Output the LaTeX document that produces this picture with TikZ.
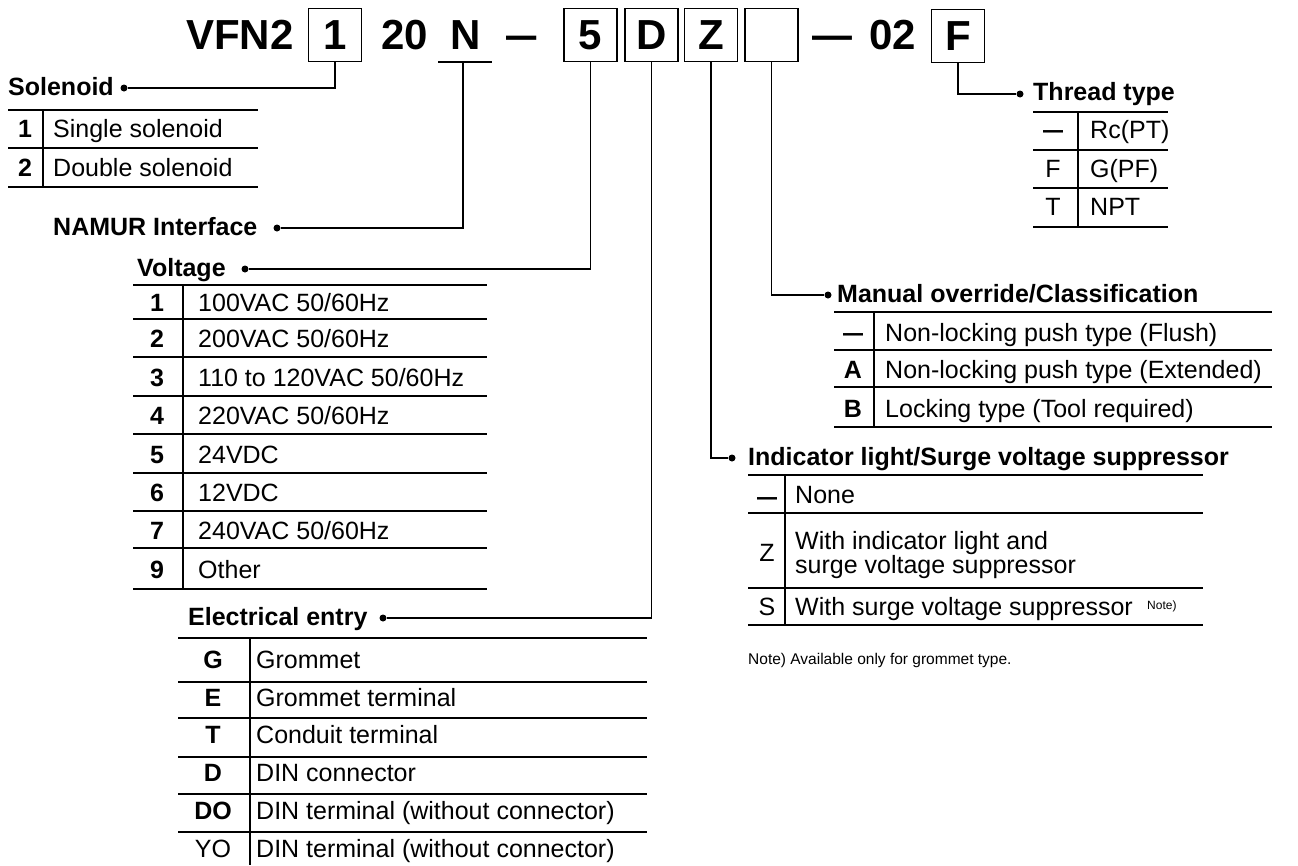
\documentclass[tikz,border=0pt]{standalone}
\usepackage{fontspec}
\setmainfont{Liberation Sans}
\newcommand\fTitle{\fontsize{42}{46}\selectfont\bfseries}
\newcommand\fHead{\fontsize{25}{28}\selectfont\bfseries}
\newcommand\fBody{\fontsize{25}{28}\selectfont}
\newcommand\fNote{\fontsize{15.5}{18}\selectfont}
\newcommand\fSup{\fontsize{12}{14}\selectfont}
\tikzset{
  conn/.style={line width=1.8pt},
  rulel/.style={line width=2.4pt},
  codebox/.style={draw, line width=1.8pt, minimum width=53pt, minimum height=53pt, inner sep=0pt, font=\fTitle},
  ttl/.style={inner sep=0pt, anchor=base west, font=\fTitle},
  dotn/.style={circle, fill, inner sep=0pt, minimum size=7pt},
  txt/.style={inner sep=0pt, anchor=base west, font=\fBody},
  hd/.style={inner sep=0pt, anchor=base west, font=\fHead},
  codeb/.style={inner sep=0pt, anchor=base, font=\fHead},
  coder/.style={inner sep=0pt, anchor=base, font=\fBody},
  notetxt/.style={inner sep=0pt, anchor=base west, font=\fNote},
  suptxt/.style={inner sep=0pt, anchor=base west, font=\fSup}
}
\begin{document}
\begin{tikzpicture}[x=1pt,y=-1pt]
\useasboundingbox (0,0) rectangle (1298,865);
% ---------- title ----------
\node[ttl] (tVFN) at (186,49) {VFN2};
\node[codebox] (b1) at (335,35) {1};
\node[ttl] (t20) at (381,49) {20};
\node[ttl] (tN) at (450,49) {N};
\coordinate (nL) at (438,62);
\coordinate (nR) at (492,62);
\coordinate (nM) at (463,62);
\draw[conn] (nL) -- (nR);
\node[ttl] (dash1) at (506,49) {\scalebox{0.72}[1]{—}};
\node[codebox] (b5) at (590.5,35) {5};
\node[codebox] (bD) at (651.5,35) {D};
\node[codebox] (bZ) at (711,35) {Z};
\node[codebox] (bM) at (771.5,35) {};
\node[ttl] (dash2) at (812,49) {\scalebox{0.95}[1]{—}};
\node[ttl] (t02) at (869,49) {02};
\node[codebox] (bF) at (958,36) {F};
% ---------- connectors ----------
\node[dotn] (dS) at (124,88) {};
\draw[conn] (b1.south) |- (dS);
\node[dotn] (dN) at (277,228) {};
\draw[conn] (nM) |- (dN);
\node[dotn] (dV) at (245,269) {};
\draw[conn] (b5.south) |- (dV);
\node[dotn] (dE) at (383,618) {};
\draw[conn] (bD.south) |- (dE);
\node[dotn] (dI) at (732,458) {};
\draw[conn] (bZ.south) |- (dI);
\node[dotn] (dM) at (828,295) {};
\draw[conn] (bM.south) |- (dM);
\node[dotn] (dT) at (1020,94) {};
\draw[conn] (bF.south) |- (dT);
% ---------- headers ----------
\node[hd] (hS) at (8,95) {Solenoid};
\node[hd] (hN) at (53,235) {NAMUR Interface};
\node[hd] (hV) at (137,276) {Voltage};
\node[hd] (hE) at (188,625) {Electrical entry};
\node[hd] (hI) at (748,465) {Indicator light/Surge voltage suppressor};
\node[hd] (hM) at (837,302) {Manual override/Classification};
\node[hd] (hT) at (1033,100) {Thread type};
% ---------- Solenoid table ----------
\foreach \yy in {110,148,187} \draw[rulel] (8,\yy) -- (258,\yy);
\draw[rulel] (43,110) -- (43,187);
\node[codeb] (s1k) at (25,137) {1};
\node[txt] (s1t) at (53,137) {Single solenoid};
\node[codeb] (s2k) at (25,176) {2};
\node[txt] (s2t) at (53,176) {Double solenoid};
% ---------- Voltage table ----------
\foreach \yy in {285,319,357,396,434,473,511,548,589} \draw[rulel] (133,\yy) -- (487,\yy);
\draw[rulel] (183,285) -- (183,589);
\foreach \k/\t/\b [count=\i] in {1/100VAC 50\slash 60Hz/311, 2/200VAC 50\slash 60Hz/347, 3/110 to 120VAC 50\slash 60Hz/386, 4/220VAC 50\slash 60Hz/424, 5/24VDC/463, 6/12VDC/501, 7/240VAC 50\slash 60Hz/539, 9/Other/578}{
  \node[codeb] (vk\i) at (157,\b) {\k};
  \node[txt] (vt\i) at (198,\b) {\t};
}
% ---------- Electrical entry table ----------
\foreach \yy in {638,682,718,757,794,832} \draw[rulel] (178,\yy) -- (647,\yy);
\draw[rulel] (250,638) -- (250,865);
\node[codeb] (ek1) at (213,668) {G};
\node[txt] (et1) at (256,668) {Grommet};
\node[codeb] (ek2) at (213,706) {E};
\node[txt] (et2) at (256,706) {Grommet terminal};
\node[codeb] (ek3) at (213,743) {T};
\node[txt] (et3) at (256,743) {Conduit terminal};
\node[codeb] (ek4) at (213,781) {D};
\node[txt] (et4) at (256,781) {DIN connector};
\node[codeb] (ek5) at (213,819) {DO};
\node[txt] (et5) at (256,819) {DIN terminal (without connector)};
\node[coder] (ek6) at (213,857) {YO};
\node[txt] (et6) at (256,857) {DIN terminal (without connector)};
% ---------- Manual override table ----------
\foreach \yy in {312,350,387,427} \draw[rulel] (834,\yy) -- (1272,\yy);
\draw[rulel] (874,312) -- (874,427);
\node[codeb] (mk1) at (853,341) {\scalebox{0.8}[1]{—}};
\node[txt] (mt1) at (885,341) {Non-locking push type (Flush)};
\node[codeb] (mk2) at (853,378) {A};
\node[txt] (mt2) at (885,378) {Non-locking push type (Extended)};
\node[codeb] (mk3) at (853,417) {B};
\node[txt] (mt3) at (885,417) {Locking type (Tool required)};
% ---------- Indicator table ----------
\foreach \yy in {475,513,588,625} \draw[rulel] (748,\yy) -- (1203,\yy);
\draw[rulel] (785,475) -- (785,625);
\node[codeb] (ik1) at (767,505) {\scalebox{0.8}[1]{—}};
\node[txt] (it1) at (795,503) {None};
\node[coder] (ik2) at (767,561) {Z};
\node[txt] (it2a) at (795,549) {With indicator light and};
\node[txt] (it2b) at (795,573) {surge voltage suppressor};
\node[coder] (ik3) at (767,615) {S};
\node[txt] (it3) at (795,615) {With surge voltage suppressor};
\node[suptxt] (it3n) at (1147,609) {Note)};
\node[notetxt] (note) at (748,664) {Note) Available only for grommet type.};
% ---------- Thread table ----------
\foreach \yy in {112,150,188,227} \draw[rulel] (1033,\yy) -- (1168,\yy);
\draw[rulel] (1078,112) -- (1078,227);
\node[codeb] (tk1) at (1053,138) {\scalebox{0.8}[1]{—}};
\node[txt] (tt1) at (1090,138) {Rc(PT)};
\node[coder] (tk2) at (1053,177) {F};
\node[txt] (tt2) at (1090,177) {G(PF)};
\node[coder] (tk3) at (1053,215) {T};
\node[txt] (tt3) at (1090,215) {NPT};
\end{tikzpicture}
\end{document}
